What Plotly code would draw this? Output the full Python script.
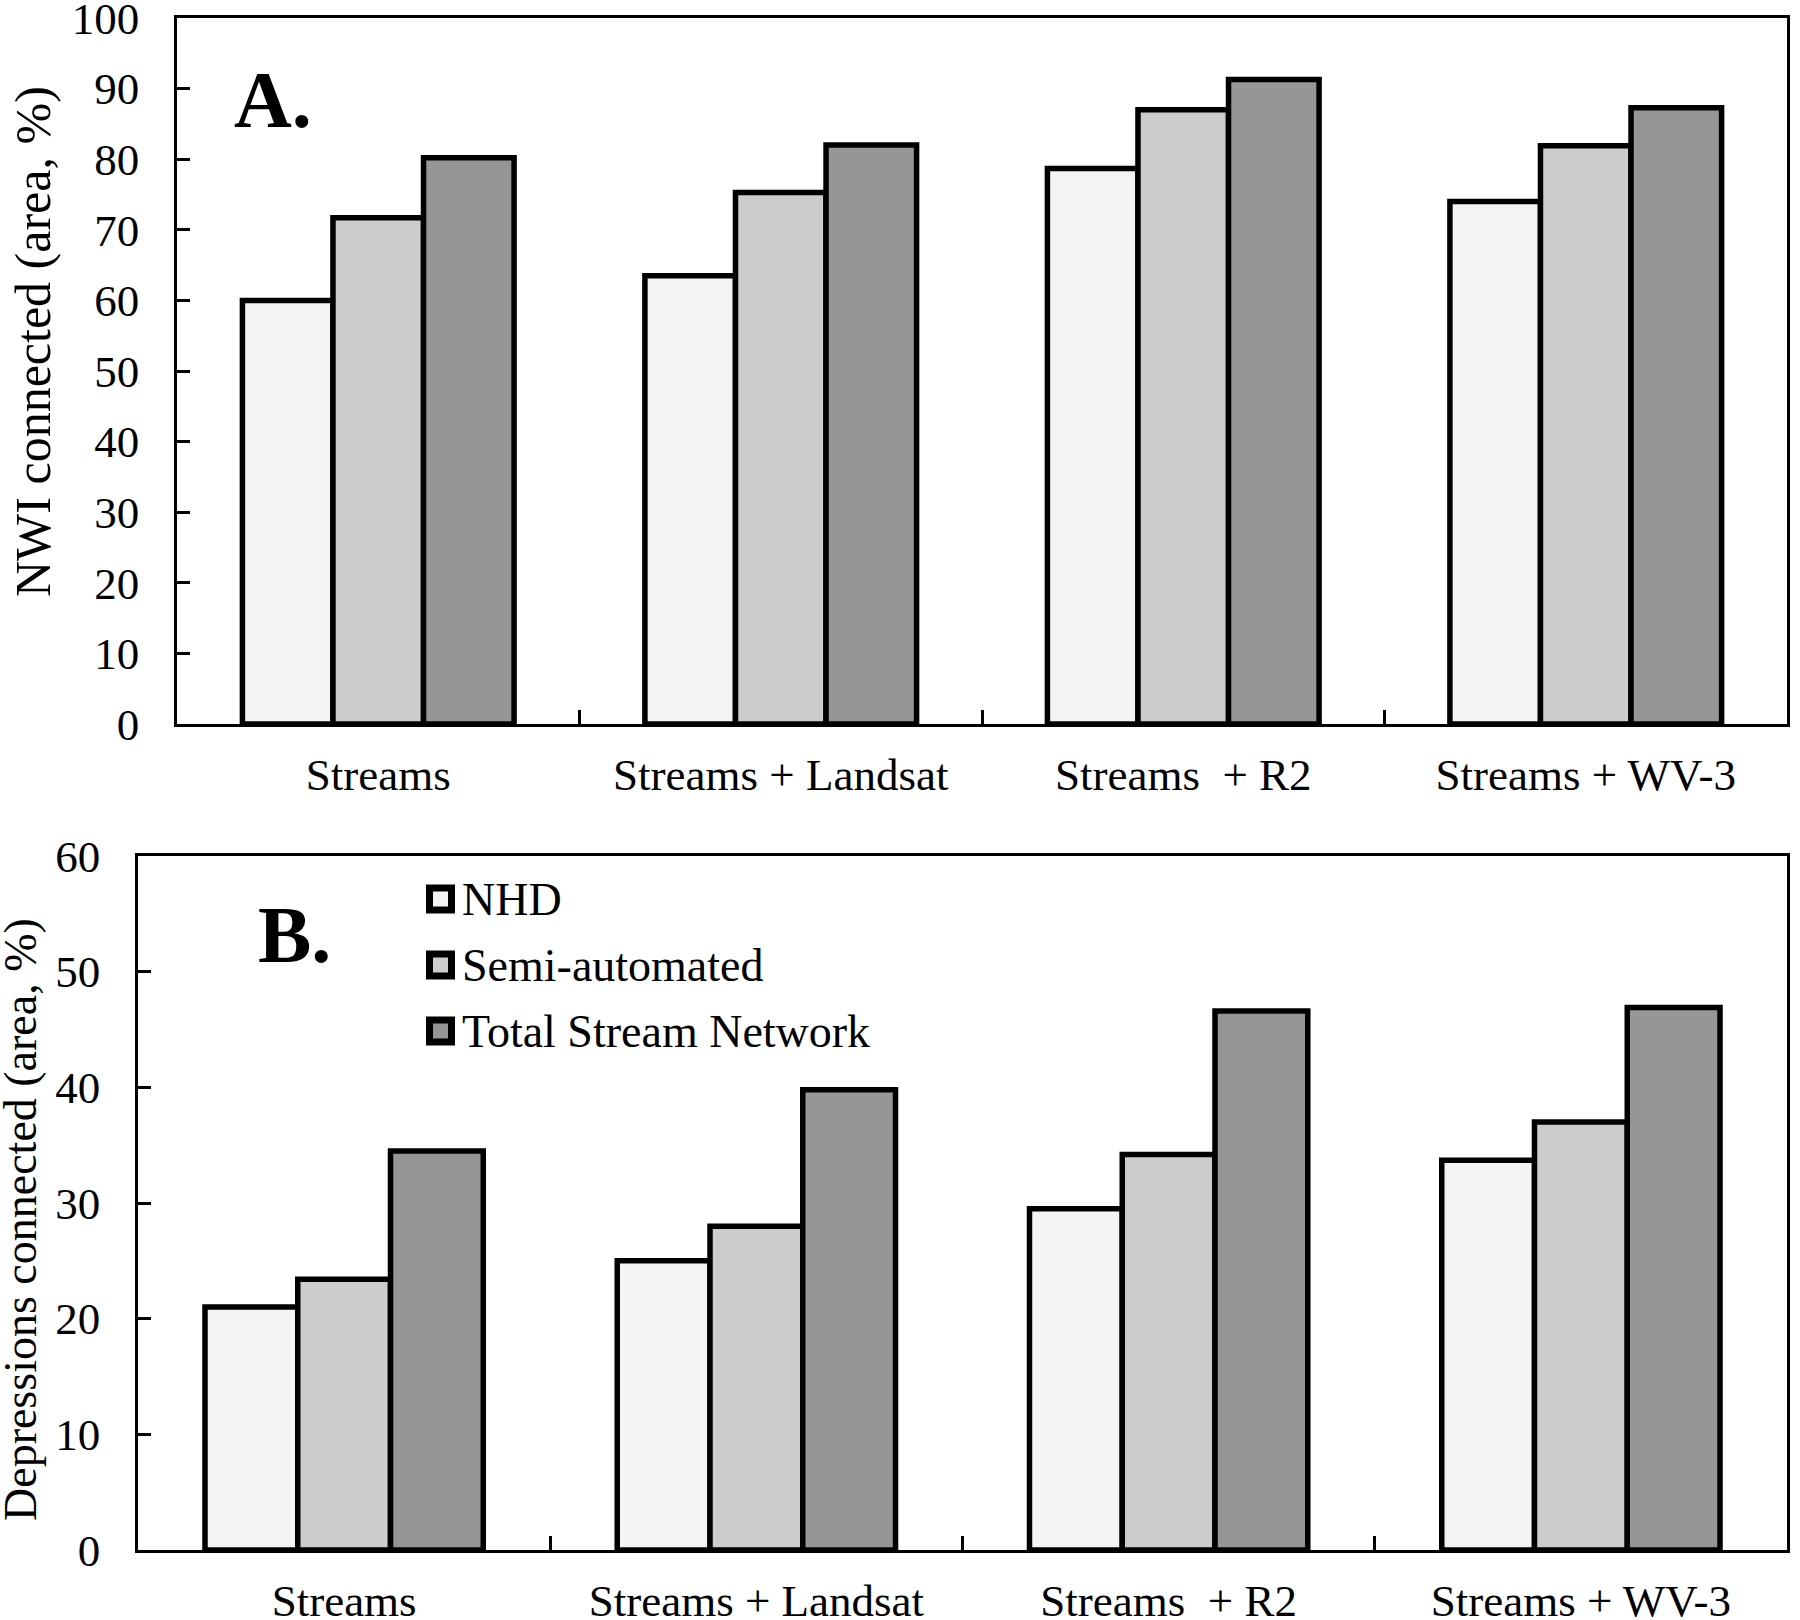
import plotly.graph_objects as go

categories = ["Streams", "Streams + Landsat", "Streams\u00a0 + R2", "Streams + WV-3"]
series_names = ["NHD", "Semi-automated", "Total Stream Network"]
series_colors = ["#f4f4f4", "#cccccc", "#969696"]

# Panel A: NWI connected (area, %)
nwi_nhd = [60.0, 63.5, 78.7, 74.0]
nwi_semi = [71.7, 75.3, 87.0, 81.9]
nwi_total = [80.2, 82.0, 91.3, 87.3]

# Panel B: Depressions connected (area, %)
dep_nhd = [21.0, 25.0, 29.5, 33.7]
dep_semi = [23.4, 28.0, 34.2, 37.0]
dep_total = [34.5, 39.8, 46.6, 46.9]

W, H = 1800, 1620
FONT = "Liberation Serif, Times New Roman, serif"

def px_x(x):
    return x / W

def px_y(y):
    return 1 - y / H

fig = go.Figure()

for vals, name, col in zip([nwi_nhd, nwi_semi, nwi_total], series_names, series_colors):
    fig.add_trace(go.Bar(x=categories, y=vals, name=name, xaxis="x", yaxis="y",
                         marker=dict(color=col, line=dict(color="black", width=5.5)),
                         showlegend=False))
for vals, name, col in zip([dep_nhd, dep_semi, dep_total], series_names, series_colors):
    fig.add_trace(go.Bar(x=categories, y=vals, name=name, xaxis="x2", yaxis="y2",
                         marker=dict(color=col, line=dict(color="black", width=5.5)),
                         showlegend=False))

axis_common = dict(showline=True, linecolor="black", linewidth=2.5, mirror=True,
                   showgrid=False, zeroline=False, ticks="inside", tickcolor="black",
                   tickwidth=2.5, automargin=False, ticklabeloverflow="allow",
                   tickfont=dict(family=FONT, size=45, color="black"))

xcommon = dict(axis_common, type="category", range=[-0.5, 3.5], tickson="boundaries",
               ticklen=14, ticklabelstandoff=9)
ycommon = dict(axis_common, ticklen=13, ticklabelstandoff=26)

fig.update_layout(
    width=W, height=H,
    margin=dict(l=0, r=0, t=0, b=0, autoexpand=False),
    paper_bgcolor="white", plot_bgcolor="white",
    barmode="group", bargap=0.325, bargroupgap=0,
    showlegend=False,
    xaxis=dict(xcommon, domain=[px_x(177), px_x(1787)], anchor="y"),
    yaxis=dict(ycommon, domain=[px_y(724), px_y(18)], anchor="x", range=[0, 100], dtick=10),
    xaxis2=dict(xcommon, domain=[px_x(138), px_x(1787)], anchor="y2"),
    yaxis2=dict(ycommon, domain=[px_y(1550), px_y(856)], anchor="x2", range=[0, 60], dtick=10),
)

annotations = [
    dict(text="NWI connected (area, %)", x=px_x(33), y=px_y(342), xref="paper", yref="paper",
         textangle=-90, showarrow=False, xanchor="center", yanchor="middle",
         font=dict(family=FONT, size=50, color="black")),
    dict(text="Depressions connected (area, %)", x=px_x(20), y=px_y(1220), xref="paper", yref="paper",
         textangle=-90, showarrow=False, xanchor="center", yanchor="middle",
         font=dict(family=FONT, size=46, color="black")),
    dict(text="<b>A.</b>", x=px_x(232), y=px_y(100), xref="paper", yref="paper",
         showarrow=False, xanchor="left", yanchor="middle",
         font=dict(family=FONT, size=80, color="black")),
    dict(text="<b>B.</b>", x=px_x(256), y=px_y(935), xref="paper", yref="paper",
         showarrow=False, xanchor="left", yanchor="middle",
         font=dict(family=FONT, size=80, color="black")),
]

shapes = []
legend_rows = [899, 965, 1031]
for name, col, yc in zip(series_names, series_colors, legend_rows):
    shapes.append(dict(type="rect", xref="paper", yref="paper",
                       x0=px_x(429.5), x1=px_x(451.5), y0=px_y(yc + 11), y1=px_y(yc - 11),
                       line=dict(color="black", width=7), fillcolor=col))
    annotations.append(dict(text=name, x=px_x(460), y=px_y(yc), xref="paper", yref="paper",
                            showarrow=False, xanchor="left", yanchor="middle",
                            font=dict(family=FONT, size=46, color="black")))

fig.update_layout(annotations=annotations, shapes=shapes)

fig.write_html("out.html",
               config={"displayModeBar": False},
               post_script="document.body.style.margin='0';document.body.style.overflow='hidden';")
